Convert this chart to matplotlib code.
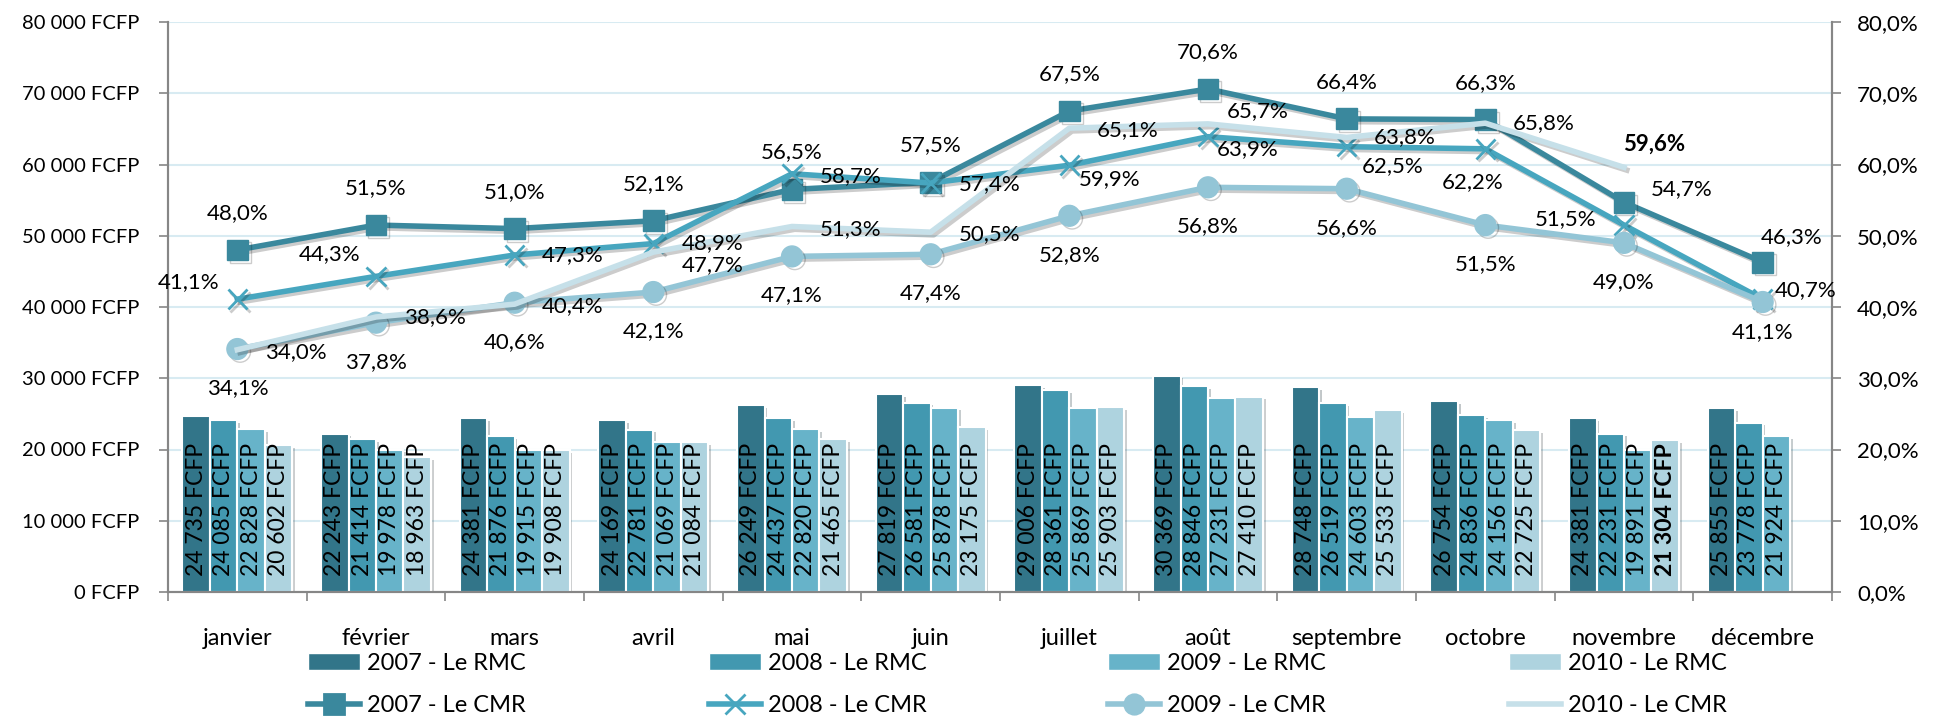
import matplotlib
matplotlib.use("Agg")
import matplotlib.pyplot as plt
import matplotlib.patheffects as pe
from matplotlib.ticker import FuncFormatter, FixedLocator
from matplotlib.lines import Line2D
from matplotlib.patches import Patch
import numpy as np

plt.rcParams['font.family'] = ['Lato', 'DejaVu Sans']

months = ['janvier', 'février', 'mars', 'avril', 'mai', 'juin', 'juillet',
          'août', 'septembre', 'octobre', 'novembre', 'décembre']

# RMC (FCFP)
rmc_2007 = [24735, 22243, 24381, 24169, 26249, 27819, 29006, 30369, 28748, 26754, 24381, 25855]
rmc_2008 = [24085, 21414, 21876, 22781, 24437, 26581, 28361, 28846, 26519, 24836, 22231, 23778]
rmc_2009 = [22828, 19978, 19915, 21069, 22820, 25878, 25869, 27231, 24603, 24156, 19891, 21924]
rmc_2010 = [20602, 18963, 19908, 21084, 21465, 23175, 25903, 27410, 25533, 22725, 21304, np.nan]

# CMR (%)
cmr_2007 = [48.0, 51.5, 51.0, 52.1, 56.5, 57.5, 67.5, 70.6, 66.4, 66.3, 54.7, 46.3]
cmr_2008 = [41.1, 44.3, 47.3, 48.9, 58.7, 57.4, 59.9, 63.9, 62.5, 62.2, 51.5, 41.1]
cmr_2009 = [34.1, 37.8, 40.6, 42.1, 47.1, 47.4, 52.8, 56.8, 56.6, 51.5, 49.0, 40.7]
cmr_2010 = [34.0, 38.6, 40.4, 47.7, 51.3, 50.5, 65.1, 65.7, 63.8, 65.8, 59.6, np.nan]

years = ['2007', '2008', '2009', '2010']
rmc = [rmc_2007, rmc_2008, rmc_2009, rmc_2010]
cmr = [cmr_2007, cmr_2008, cmr_2009, cmr_2010]

bar_colors = ['#327589', '#4298b0', '#67b3c9', '#aed3df']
line_colors = ['#3a889d', '#47a6bf', '#93c5d6', '#c6e0e9']
markers = ['s', 'x', 'o', None]

# position des etiquettes CMR, en pixels (dx, dy)
lbl_off = [
    [(0, 37)] * 10 + [(58, 13), (29, 25)],
    [(-49, 17), (-46, 22), (58, 0), (59, 0), (59, -2), (59, -1), (40, -14),
     (40, -12), (46, -19), (-13, -33), (-58, 6), (0, -33)],
    [(0, -39)] * 11 + [(43, 12)],
    [(58, -2), (59, 0), (58, -2), (59, -13), (59, -3), (59, -2), (58, -2),
     (50, 13), (58, 0), (58, 0), (30, 23), (0, 0)],
]

fig = plt.figure(figsize=(19.45, 7.19), dpi=100)
ax = fig.add_axes([168/1945, 1-592/719, (1832-168)/1945, (592-22)/719])
ax2 = ax.twinx()

x = np.arange(12)
w = 0.198
shadow = [pe.SimplePatchShadow(offset=(2, -2), alpha=0.25), pe.Normal()]
for k in range(4):
    vals = np.array(rmc[k], dtype=float)
    xs = x + (k - 1.5) * w
    ax.bar(xs, vals, w, color=bar_colors[k], edgecolor='white', linewidth=1.5,
           zorder=3, path_effects=shadow)
    for i in range(12):
        if np.isnan(vals[i]):
            continue
        txt = f"{vals[i]:,.0f}".replace(',', ' ') + " FCFP"
        bold = (k == 3 and i == 10)
        ax.annotate(txt, (xs[i], 0), xytext=(0, 16), textcoords='offset pixels',
                    rotation=90, ha='center', va='bottom', fontsize=16.5,
                    fontweight='bold' if bold else 'normal', zorder=5)

line_fx = [pe.SimpleLineShadow(offset=(2, -2), alpha=0.2), pe.Normal()]
for k in range(4):
    vals = np.array(cmr[k], dtype=float)
    ax2.plot(x, vals, color=line_colors[k], lw=4, marker=markers[k],
             markersize=15 if k != 1 else 14, mew=2 if k == 1 else 1,
             mec=line_colors[k], mfc=line_colors[k], zorder=4, path_effects=line_fx)
    for i in range(12):
        if np.isnan(vals[i]):
            continue
        bold = (k == 3 and i == 10)
        ax2.annotate(f"{vals[i]:.1f}%".replace('.', ','), (x[i], vals[i]),
                     xytext=lbl_off[k][i], textcoords='offset pixels',
                     ha='center', va='center', fontsize=16,
                     fontweight='bold' if bold else 'normal', zorder=6)

ax.set_xlim(-0.5, 11.5)
ax.set_ylim(0, 80000)
ax2.set_ylim(0, 80)
ax.set_yticks(np.arange(0, 80001, 10000))
ax2.set_yticks(np.arange(0, 81, 10))
ax.yaxis.set_major_formatter(FuncFormatter(lambda v, p: f"{v:,.0f}".replace(',', ' ') + " FCFP"))
ax2.yaxis.set_major_formatter(FuncFormatter(lambda v, p: f"{v:.1f}%".replace('.', ',')))

ax.xaxis.set_major_locator(FixedLocator(np.arange(-0.5, 12, 1)))
ax.xaxis.set_minor_locator(FixedLocator(x))
ax.set_xticklabels([], minor=False)
ax.set_xticklabels(months, minor=True)
ax.tick_params(axis='x', which='major', length=6.5, width=1.2, color='#868686')
ax.tick_params(axis='x', which='minor', length=0, pad=26, labelsize=17)
ax.tick_params(axis='y', length=6.5, width=1.2, color='#868686', labelsize=14.5, pad=14)
ax2.tick_params(axis='y', length=6.5, width=1.2, color='#868686', labelsize=16, pad=11.5)

ax.grid(axis='y', color='#d8ebf2', lw=1.5, zorder=0)
ax.set_axisbelow(True)
for a in (ax, ax2):
    a.spines['top'].set_visible(False)
    for s in ('left', 'right', 'bottom'):
        a.spines[s].set_color('#868686')
        a.spines[s].set_linewidth(1.5)

# une legende par colonne : RMC en haut, CMR en bas
col_x = [308, 709, 1108, 1509]
for k in range(4):
    h_rmc = Patch(facecolor=bar_colors[k], edgecolor='white')
    h_cmr = Line2D([], [], color=line_colors[k], lw=4, marker=markers[k],
                   markersize=14, mec=line_colors[k], mfc=line_colors[k], mew=2)
    fig.legend([h_rmc, h_cmr], [f"{years[k]} - Le RMC", f"{years[k]} - Le CMR"],
               loc='upper left', bbox_to_anchor=(col_x[k]/1945, 1-653/719),
               frameon=False, fontsize=17, handlelength=2.2, handletextpad=0.3,
               labelspacing=0.9, borderpad=0, borderaxespad=0)

fig.savefig('out.png', dpi=100)
